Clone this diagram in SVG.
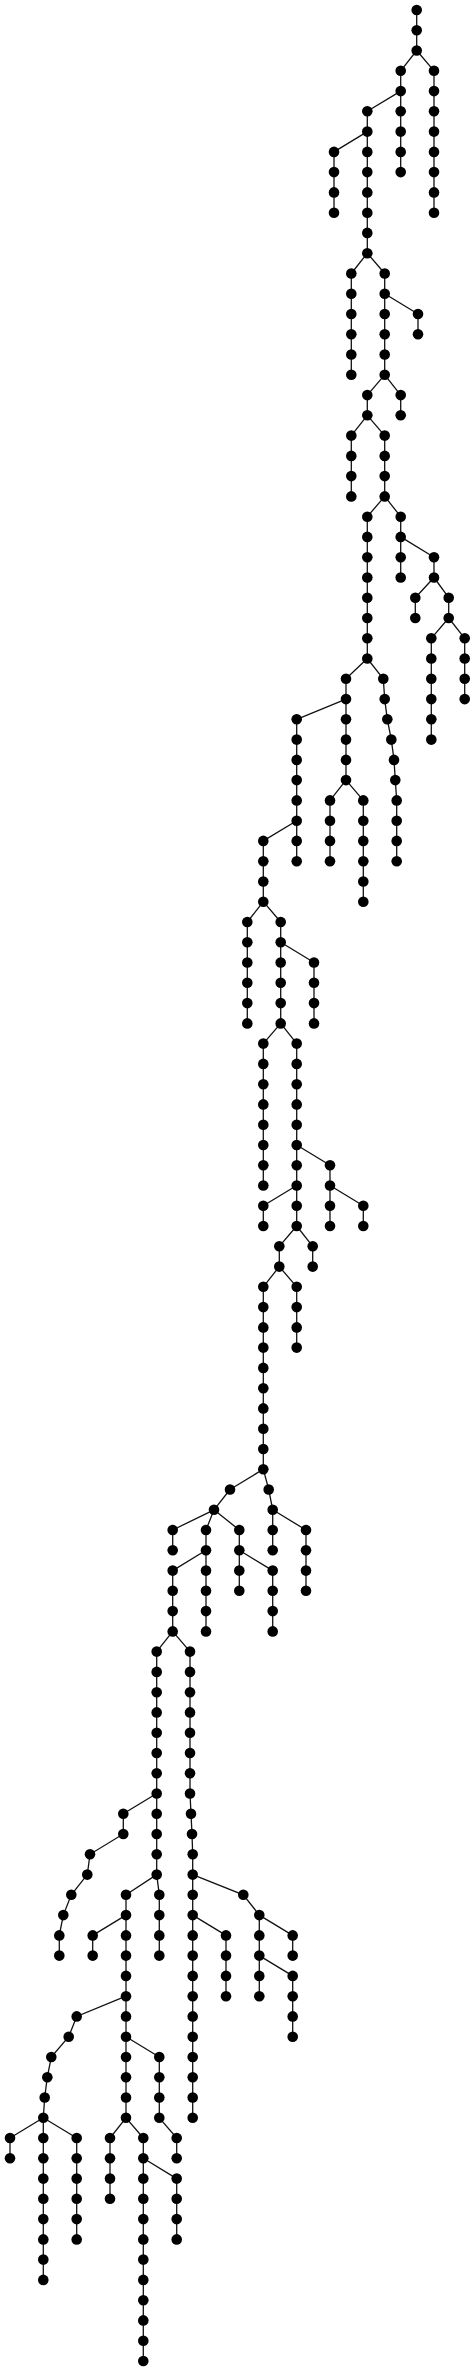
<svg xmlns="http://www.w3.org/2000/svg" width="475" height="2371" viewBox="0 0 475 2371">
<style>
.e{fill:none;stroke:#111;stroke-width:1.3}
circle{fill:#000}
</style>
<rect width="475" height="2371" fill="#fff"/>
<g id="connectors" class="e">
<path d="M416.7 10V50.5M400.7 70.8V172.1M434 70.8V212.7M367.3 111.3V253.2M334 151.9V212.7M351.3 273.5V374.8M384.7 273.5V374.8M418 314V334.3M367.3 395.1V415.3M400.7 395.1V415.3M351.3 435.6V496.4M384.7 435.6V496.4M367.3 516.7V658.5M400.7 516.7V577.5M434 557.2V577.5M415.3 597.7V618M448.7 597.7V618M431.3 638.3V739.6M464.7 638.3V699.1M346 678.8V780.1M383.3 678.8L384.7 699.1L387.3 719.3L391.3 739.6L394 759.9L395.3 780.1L396.7 800.4V861.2M296.7 719.3V861.2M330 800.4V861.2M363.3 800.4V901.7M263.3 840.9V901.7M247.3 922V1023.4M280.7 922V1023.4M314 962.5V1023.4M263.3 1043.6V1185.5M296.7 1043.6V1226M330 1165.2V1226M363.3 1205.8V1226M263.3 1205.8V1226M279.3 1246.3V1266.6M312.7 1246.3V1266.6M263.3 1286.8V1469.2M296.7 1286.8V1347.6M268.7 1489.5L272.7 1509.8V1550.3M172.7 1530V1550.3M206 1530V1631.4M239.3 1530V1590.8M306 1530V1590.8M172.7 1570.6V1631.4M272.7 1570.6V1631.4M156.7 1651.6V1874.6M190 1651.6V1793.5L191 1813.8L192 1834L192.7 1854.3V2117.8M123.3 1813.8V1834L90 1854.3L87.3 1874.6L71.3 1894.8L63.3 1915.1L59.3 1935.4V1955.6M126 1894.8V2117.8M159.3 1894.8V1955.6M192.7 1874.6L243.3 1894.8L259.3 1915.1V1996.2M92.7 1935.4V1955.6M226 1935.4V1996.2M292.7 1935.4V1955.6M292.7 1975.9V2036.7M126 1996.2L76.7 2016.4L68.7 2036.7L51.3 2057L47.3 2077.2L44.7 2097.5L43.3 2117.8V2279.9M159.3 2057V2117.8M10 2138V2158.3M76.7 2138V2239.4M110 2138V2198.8M143.3 2138V2361M176.7 2138V2158.3M176.7 2178.6V2239.4"/>
<path d="M416.7 50.5L400.7 70.8M416.7 50.5L434 70.8M400.7 91.1L367.3 111.3M367.3 131.6L334 151.9M367.3 253.2L351.3 273.5M367.3 253.2L384.7 273.5M384.7 293.7L418 314M384.7 374.8L367.3 395.1M384.7 374.8L400.7 395.1M367.3 415.3L351.3 435.6M367.3 415.3L384.7 435.6M384.7 496.4L367.3 516.7M384.7 496.4L400.7 516.7M400.7 536.9L434 557.2M434 577.5L415.3 597.7M434 577.5L448.7 597.7M448.7 618L431.3 638.3M448.7 618L464.7 638.3M367.3 658.5L346 678.8M367.3 658.5L383.3 678.8M346 699.1L296.7 719.3M346 780.1L330 800.4M346 780.1L363.3 800.4M296.7 820.7L263.3 840.9M263.3 901.7L247.3 922M263.3 901.7L280.7 922M280.7 942.3L314 962.5M280.7 1023.4L263.3 1043.6M280.7 1023.4L296.7 1043.6M296.7 1145L330 1165.2M296.7 1185.5L263.3 1205.8M330 1185.5L363.3 1205.8M296.7 1226L279.3 1246.3M296.7 1226L312.7 1246.3M279.3 1266.6L263.3 1286.8M279.3 1266.6L296.7 1286.8M263.3 1469.2L230 1489.5M263.3 1469.2L268.7 1489.5M230 1489.5L214 1509.8M214 1509.8L172.7 1530M214 1509.8L206 1530M214 1509.8L239.3 1530M272.7 1509.8L306 1530M206 1550.3L172.7 1570.6M239.3 1550.3L272.7 1570.6M172.7 1631.4L156.7 1651.6M172.7 1631.4L190 1651.6M156.7 1793.5L123.3 1813.8M156.7 1874.6L126 1894.8M156.7 1874.6L159.3 1894.8M126 1915.1L92.7 1935.4M192.7 1915.1L226 1935.4M259.3 1915.1L292.7 1935.4M259.3 1955.6L292.7 1975.9M126 2036.7L159.3 2057M43.3 2117.8L10 2138M43.3 2117.8L76.7 2138M126 2117.8L110 2138M126 2117.8L143.3 2138M159.3 2117.8L176.7 2138M143.3 2158.3L176.7 2178.6"/>
</g>
<g id="nodes">
<g id="n0_0"><circle cx="416.7" cy="10" r="5.3"/></g>
<g id="n1_0"><circle cx="416.7" cy="30.3" r="5.3"/></g>
<g id="n2_0"><circle cx="416.7" cy="50.5" r="5.3"/></g>
<g id="n3_0"><circle cx="400.7" cy="70.8" r="5.3"/></g>
<g id="n3_1"><circle cx="434" cy="70.8" r="5.3"/></g>
<g id="n4_0"><circle cx="400.7" cy="91.1" r="5.3"/></g>
<g id="n4_1"><circle cx="434" cy="91.1" r="5.3"/></g>
<g id="n5_0"><circle cx="367.3" cy="111.3" r="5.3"/></g>
<g id="n5_1"><circle cx="400.7" cy="111.3" r="5.3"/></g>
<g id="n5_2"><circle cx="434" cy="111.3" r="5.3"/></g>
<g id="n6_0"><circle cx="367.3" cy="131.6" r="5.3"/></g>
<g id="n6_1"><circle cx="400.7" cy="131.6" r="5.3"/></g>
<g id="n6_2"><circle cx="434" cy="131.6" r="5.3"/></g>
<g id="n7_0"><circle cx="334" cy="151.9" r="5.3"/></g>
<g id="n7_1"><circle cx="367.3" cy="151.9" r="5.3"/></g>
<g id="n7_2"><circle cx="400.7" cy="151.9" r="5.3"/></g>
<g id="n7_3"><circle cx="434" cy="151.9" r="5.3"/></g>
<g id="n8_0"><circle cx="334" cy="172.1" r="5.3"/></g>
<g id="n8_1"><circle cx="367.3" cy="172.1" r="5.3"/></g>
<g id="n8_2"><circle cx="400.7" cy="172.1" r="5.3"/></g>
<g id="n8_3"><circle cx="434" cy="172.1" r="5.3"/></g>
<g id="n9_0"><circle cx="334" cy="192.4" r="5.3"/></g>
<g id="n9_1"><circle cx="367.3" cy="192.4" r="5.3"/></g>
<g id="n9_2"><circle cx="434" cy="192.4" r="5.3"/></g>
<g id="n10_0"><circle cx="334" cy="212.7" r="5.3"/></g>
<g id="n10_1"><circle cx="367.3" cy="212.7" r="5.3"/></g>
<g id="n10_2"><circle cx="434" cy="212.7" r="5.3"/></g>
<g id="n11_0"><circle cx="367.3" cy="232.9" r="5.3"/></g>
<g id="n12_0"><circle cx="367.3" cy="253.2" r="5.3"/></g>
<g id="n13_0"><circle cx="351.3" cy="273.5" r="5.3"/></g>
<g id="n13_1"><circle cx="384.7" cy="273.5" r="5.3"/></g>
<g id="n14_0"><circle cx="351.3" cy="293.7" r="5.3"/></g>
<g id="n14_1"><circle cx="384.7" cy="293.7" r="5.3"/></g>
<g id="n15_0"><circle cx="351.3" cy="314" r="5.3"/></g>
<g id="n15_1"><circle cx="384.7" cy="314" r="5.3"/></g>
<g id="n15_2"><circle cx="418" cy="314" r="5.3"/></g>
<g id="n16_0"><circle cx="351.3" cy="334.3" r="5.3"/></g>
<g id="n16_1"><circle cx="384.7" cy="334.3" r="5.3"/></g>
<g id="n16_2"><circle cx="418" cy="334.3" r="5.3"/></g>
<g id="n17_0"><circle cx="351.3" cy="354.5" r="5.3"/></g>
<g id="n17_1"><circle cx="384.7" cy="354.5" r="5.3"/></g>
<g id="n18_0"><circle cx="351.3" cy="374.8" r="5.3"/></g>
<g id="n18_1"><circle cx="384.7" cy="374.8" r="5.3"/></g>
<g id="n19_0"><circle cx="367.3" cy="395.1" r="5.3"/></g>
<g id="n19_1"><circle cx="400.7" cy="395.1" r="5.3"/></g>
<g id="n20_0"><circle cx="367.3" cy="415.3" r="5.3"/></g>
<g id="n20_1"><circle cx="400.7" cy="415.3" r="5.3"/></g>
<g id="n21_0"><circle cx="351.3" cy="435.6" r="5.3"/></g>
<g id="n21_1"><circle cx="384.7" cy="435.6" r="5.3"/></g>
<g id="n22_0"><circle cx="351.3" cy="455.9" r="5.3"/></g>
<g id="n22_1"><circle cx="384.7" cy="455.9" r="5.3"/></g>
<g id="n23_0"><circle cx="351.3" cy="476.1" r="5.3"/></g>
<g id="n23_1"><circle cx="384.7" cy="476.1" r="5.3"/></g>
<g id="n24_0"><circle cx="351.3" cy="496.4" r="5.3"/></g>
<g id="n24_1"><circle cx="384.7" cy="496.4" r="5.3"/></g>
<g id="n25_0"><circle cx="367.3" cy="516.7" r="5.3"/></g>
<g id="n25_1"><circle cx="400.7" cy="516.7" r="5.3"/></g>
<g id="n26_0"><circle cx="367.3" cy="536.9" r="5.3"/></g>
<g id="n26_1"><circle cx="400.7" cy="536.9" r="5.3"/></g>
<g id="n27_0"><circle cx="367.3" cy="557.2" r="5.3"/></g>
<g id="n27_1"><circle cx="400.7" cy="557.2" r="5.3"/></g>
<g id="n27_2"><circle cx="434" cy="557.2" r="5.3"/></g>
<g id="n28_0"><circle cx="367.3" cy="577.5" r="5.3"/></g>
<g id="n28_1"><circle cx="400.7" cy="577.5" r="5.3"/></g>
<g id="n28_2"><circle cx="434" cy="577.5" r="5.3"/></g>
<g id="n29_0"><circle cx="367.3" cy="597.7" r="5.3"/></g>
<g id="n29_1"><circle cx="415.3" cy="597.7" r="5.3"/></g>
<g id="n29_2"><circle cx="448.7" cy="597.7" r="5.3"/></g>
<g id="n30_0"><circle cx="367.3" cy="618" r="5.3"/></g>
<g id="n30_1"><circle cx="415.3" cy="618" r="5.3"/></g>
<g id="n30_2"><circle cx="448.7" cy="618" r="5.3"/></g>
<g id="n31_0"><circle cx="367.3" cy="638.3" r="5.3"/></g>
<g id="n31_1"><circle cx="431.3" cy="638.3" r="5.3"/></g>
<g id="n31_2"><circle cx="464.7" cy="638.3" r="5.3"/></g>
<g id="n32_0"><circle cx="367.3" cy="658.5" r="5.3"/></g>
<g id="n32_1"><circle cx="431.3" cy="658.5" r="5.3"/></g>
<g id="n32_2"><circle cx="464.7" cy="658.5" r="5.3"/></g>
<g id="n33_0"><circle cx="346" cy="678.8" r="5.3"/></g>
<g id="n33_1"><circle cx="383.3" cy="678.8" r="5.3"/></g>
<g id="n33_2"><circle cx="431.3" cy="678.8" r="5.3"/></g>
<g id="n33_3"><circle cx="464.7" cy="678.8" r="5.3"/></g>
<g id="n34_0"><circle cx="346" cy="699.1" r="5.3"/></g>
<g id="n34_1"><circle cx="384.7" cy="699.1" r="5.3"/></g>
<g id="n34_2"><circle cx="431.3" cy="699.1" r="5.3"/></g>
<g id="n34_3"><circle cx="464.7" cy="699.1" r="5.3"/></g>
<g id="n35_0"><circle cx="296.7" cy="719.3" r="5.3"/></g>
<g id="n35_1"><circle cx="346" cy="719.3" r="5.3"/></g>
<g id="n35_2"><circle cx="387.3" cy="719.3" r="5.3"/></g>
<g id="n35_3"><circle cx="431.3" cy="719.3" r="5.3"/></g>
<g id="n36_0"><circle cx="296.7" cy="739.6" r="5.3"/></g>
<g id="n36_1"><circle cx="346" cy="739.6" r="5.3"/></g>
<g id="n36_2"><circle cx="391.3" cy="739.6" r="5.3"/></g>
<g id="n36_3"><circle cx="431.3" cy="739.6" r="5.3"/></g>
<g id="n37_0"><circle cx="296.7" cy="759.9" r="5.3"/></g>
<g id="n37_1"><circle cx="346" cy="759.9" r="5.3"/></g>
<g id="n37_2"><circle cx="394" cy="759.9" r="5.3"/></g>
<g id="n38_0"><circle cx="296.7" cy="780.1" r="5.3"/></g>
<g id="n38_1"><circle cx="346" cy="780.1" r="5.3"/></g>
<g id="n38_2"><circle cx="395.3" cy="780.1" r="5.3"/></g>
<g id="n39_0"><circle cx="296.7" cy="800.4" r="5.3"/></g>
<g id="n39_1"><circle cx="330" cy="800.4" r="5.3"/></g>
<g id="n39_2"><circle cx="363.3" cy="800.4" r="5.3"/></g>
<g id="n39_3"><circle cx="396.7" cy="800.4" r="5.3"/></g>
<g id="n40_0"><circle cx="296.7" cy="820.7" r="5.3"/></g>
<g id="n40_1"><circle cx="330" cy="820.7" r="5.3"/></g>
<g id="n40_2"><circle cx="363.3" cy="820.7" r="5.3"/></g>
<g id="n40_3"><circle cx="396.7" cy="820.7" r="5.3"/></g>
<g id="n41_0"><circle cx="263.3" cy="840.9" r="5.3"/></g>
<g id="n41_1"><circle cx="296.7" cy="840.9" r="5.3"/></g>
<g id="n41_2"><circle cx="330" cy="840.9" r="5.3"/></g>
<g id="n41_3"><circle cx="363.3" cy="840.9" r="5.3"/></g>
<g id="n41_4"><circle cx="396.7" cy="840.9" r="5.3"/></g>
<g id="n42_0"><circle cx="263.3" cy="861.2" r="5.3"/></g>
<g id="n42_1"><circle cx="296.7" cy="861.2" r="5.3"/></g>
<g id="n42_2"><circle cx="330" cy="861.2" r="5.3"/></g>
<g id="n42_3"><circle cx="363.3" cy="861.2" r="5.3"/></g>
<g id="n42_4"><circle cx="396.7" cy="861.2" r="5.3"/></g>
<g id="n43_0"><circle cx="263.3" cy="881.5" r="5.3"/></g>
<g id="n43_1"><circle cx="363.3" cy="881.5" r="5.3"/></g>
<g id="n44_0"><circle cx="263.3" cy="901.7" r="5.3"/></g>
<g id="n44_1"><circle cx="363.3" cy="901.7" r="5.3"/></g>
<g id="n45_0"><circle cx="247.3" cy="922" r="5.3"/></g>
<g id="n45_1"><circle cx="280.7" cy="922" r="5.3"/></g>
<g id="n46_0"><circle cx="247.3" cy="942.3" r="5.3"/></g>
<g id="n46_1"><circle cx="280.7" cy="942.3" r="5.3"/></g>
<g id="n47_0"><circle cx="247.3" cy="962.5" r="5.3"/></g>
<g id="n47_1"><circle cx="280.7" cy="962.5" r="5.3"/></g>
<g id="n47_2"><circle cx="314" cy="962.5" r="5.3"/></g>
<g id="n48_0"><circle cx="247.3" cy="982.8" r="5.3"/></g>
<g id="n48_1"><circle cx="280.7" cy="982.8" r="5.3"/></g>
<g id="n48_2"><circle cx="314" cy="982.8" r="5.3"/></g>
<g id="n49_0"><circle cx="247.3" cy="1003.1" r="5.3"/></g>
<g id="n49_1"><circle cx="280.7" cy="1003.1" r="5.3"/></g>
<g id="n49_2"><circle cx="314" cy="1003.1" r="5.3"/></g>
<g id="n50_0"><circle cx="247.3" cy="1023.4" r="5.3"/></g>
<g id="n50_1"><circle cx="280.7" cy="1023.4" r="5.3"/></g>
<g id="n50_2"><circle cx="314" cy="1023.4" r="5.3"/></g>
<g id="n51_0"><circle cx="263.3" cy="1043.6" r="5.3"/></g>
<g id="n51_1"><circle cx="296.7" cy="1043.6" r="5.3"/></g>
<g id="n52_0"><circle cx="263.3" cy="1063.9" r="5.3"/></g>
<g id="n52_1"><circle cx="296.7" cy="1063.9" r="5.3"/></g>
<g id="n53_0"><circle cx="263.3" cy="1084.2" r="5.3"/></g>
<g id="n53_1"><circle cx="296.7" cy="1084.2" r="5.3"/></g>
<g id="n54_0"><circle cx="263.3" cy="1104.4" r="5.3"/></g>
<g id="n54_1"><circle cx="296.7" cy="1104.4" r="5.3"/></g>
<g id="n55_0"><circle cx="263.3" cy="1124.7" r="5.3"/></g>
<g id="n55_1"><circle cx="296.7" cy="1124.7" r="5.3"/></g>
<g id="n56_0"><circle cx="263.3" cy="1145" r="5.3"/></g>
<g id="n56_1"><circle cx="296.7" cy="1145" r="5.3"/></g>
<g id="n57_0"><circle cx="263.3" cy="1165.2" r="5.3"/></g>
<g id="n57_1"><circle cx="296.7" cy="1165.2" r="5.3"/></g>
<g id="n57_2"><circle cx="330" cy="1165.2" r="5.3"/></g>
<g id="n58_0"><circle cx="263.3" cy="1185.5" r="5.3"/></g>
<g id="n58_1"><circle cx="296.7" cy="1185.5" r="5.3"/></g>
<g id="n58_2"><circle cx="330" cy="1185.5" r="5.3"/></g>
<g id="n59_0"><circle cx="263.3" cy="1205.8" r="5.3"/></g>
<g id="n59_1"><circle cx="296.7" cy="1205.8" r="5.3"/></g>
<g id="n59_2"><circle cx="330" cy="1205.8" r="5.3"/></g>
<g id="n59_3"><circle cx="363.3" cy="1205.8" r="5.3"/></g>
<g id="n60_0"><circle cx="263.3" cy="1226" r="5.3"/></g>
<g id="n60_1"><circle cx="296.7" cy="1226" r="5.3"/></g>
<g id="n60_2"><circle cx="330" cy="1226" r="5.3"/></g>
<g id="n60_3"><circle cx="363.3" cy="1226" r="5.3"/></g>
<g id="n61_0"><circle cx="279.3" cy="1246.3" r="5.3"/></g>
<g id="n61_1"><circle cx="312.7" cy="1246.3" r="5.3"/></g>
<g id="n62_0"><circle cx="279.3" cy="1266.6" r="5.3"/></g>
<g id="n62_1"><circle cx="312.7" cy="1266.6" r="5.3"/></g>
<g id="n63_0"><circle cx="263.3" cy="1286.8" r="5.3"/></g>
<g id="n63_1"><circle cx="296.7" cy="1286.8" r="5.3"/></g>
<g id="n64_0"><circle cx="263.3" cy="1307.1" r="5.3"/></g>
<g id="n64_1"><circle cx="296.7" cy="1307.1" r="5.3"/></g>
<g id="n65_0"><circle cx="263.3" cy="1327.4" r="5.3"/></g>
<g id="n65_1"><circle cx="296.7" cy="1327.4" r="5.3"/></g>
<g id="n66_0"><circle cx="263.3" cy="1347.6" r="5.3"/></g>
<g id="n66_1"><circle cx="296.7" cy="1347.6" r="5.3"/></g>
<g id="n67_0"><circle cx="263.3" cy="1367.9" r="5.3"/></g>
<g id="n68_0"><circle cx="263.3" cy="1388.2" r="5.3"/></g>
<g id="n69_0"><circle cx="263.3" cy="1408.4" r="5.3"/></g>
<g id="n70_0"><circle cx="263.3" cy="1428.7" r="5.3"/></g>
<g id="n71_0"><circle cx="263.3" cy="1449" r="5.3"/></g>
<g id="n72_0"><circle cx="263.3" cy="1469.2" r="5.3"/></g>
<g id="n73_0"><circle cx="230" cy="1489.5" r="5.3"/></g>
<g id="n73_1"><circle cx="268.7" cy="1489.5" r="5.3"/></g>
<g id="n74_0"><circle cx="214" cy="1509.8" r="5.3"/></g>
<g id="n74_1"><circle cx="272.7" cy="1509.8" r="5.3"/></g>
<g id="n75_0"><circle cx="172.7" cy="1530" r="5.3"/></g>
<g id="n75_1"><circle cx="206" cy="1530" r="5.3"/></g>
<g id="n75_2"><circle cx="239.3" cy="1530" r="5.3"/></g>
<g id="n75_3"><circle cx="272.7" cy="1530" r="5.3"/></g>
<g id="n75_4"><circle cx="306" cy="1530" r="5.3"/></g>
<g id="n76_0"><circle cx="172.7" cy="1550.3" r="5.3"/></g>
<g id="n76_1"><circle cx="206" cy="1550.3" r="5.3"/></g>
<g id="n76_2"><circle cx="239.3" cy="1550.3" r="5.3"/></g>
<g id="n76_3"><circle cx="272.7" cy="1550.3" r="5.3"/></g>
<g id="n76_4"><circle cx="306" cy="1550.3" r="5.3"/></g>
<g id="n77_0"><circle cx="172.7" cy="1570.6" r="5.3"/></g>
<g id="n77_1"><circle cx="206" cy="1570.6" r="5.3"/></g>
<g id="n77_2"><circle cx="239.3" cy="1570.6" r="5.3"/></g>
<g id="n77_3"><circle cx="272.7" cy="1570.6" r="5.3"/></g>
<g id="n77_4"><circle cx="306" cy="1570.6" r="5.3"/></g>
<g id="n78_0"><circle cx="172.7" cy="1590.8" r="5.3"/></g>
<g id="n78_1"><circle cx="206" cy="1590.8" r="5.3"/></g>
<g id="n78_2"><circle cx="239.3" cy="1590.8" r="5.3"/></g>
<g id="n78_3"><circle cx="272.7" cy="1590.8" r="5.3"/></g>
<g id="n78_4"><circle cx="306" cy="1590.8" r="5.3"/></g>
<g id="n79_0"><circle cx="172.7" cy="1611.1" r="5.3"/></g>
<g id="n79_1"><circle cx="206" cy="1611.1" r="5.3"/></g>
<g id="n79_2"><circle cx="272.7" cy="1611.1" r="5.3"/></g>
<g id="n80_0"><circle cx="172.7" cy="1631.4" r="5.3"/></g>
<g id="n80_1"><circle cx="206" cy="1631.4" r="5.3"/></g>
<g id="n80_2"><circle cx="272.7" cy="1631.4" r="5.3"/></g>
<g id="n81_0"><circle cx="156.7" cy="1651.6" r="5.3"/></g>
<g id="n81_1"><circle cx="190" cy="1651.6" r="5.3"/></g>
<g id="n82_0"><circle cx="156.7" cy="1671.9" r="5.3"/></g>
<g id="n82_1"><circle cx="190" cy="1671.9" r="5.3"/></g>
<g id="n83_0"><circle cx="156.7" cy="1692.2" r="5.3"/></g>
<g id="n83_1"><circle cx="190" cy="1692.2" r="5.3"/></g>
<g id="n84_0"><circle cx="156.7" cy="1712.4" r="5.3"/></g>
<g id="n84_1"><circle cx="190" cy="1712.4" r="5.3"/></g>
<g id="n85_0"><circle cx="156.7" cy="1732.7" r="5.3"/></g>
<g id="n85_1"><circle cx="190" cy="1732.7" r="5.3"/></g>
<g id="n86_0"><circle cx="156.7" cy="1753" r="5.3"/></g>
<g id="n86_1"><circle cx="190" cy="1753" r="5.3"/></g>
<g id="n87_0"><circle cx="156.7" cy="1773.2" r="5.3"/></g>
<g id="n87_1"><circle cx="190" cy="1773.2" r="5.3"/></g>
<g id="n88_0"><circle cx="156.7" cy="1793.5" r="5.3"/></g>
<g id="n88_1"><circle cx="190" cy="1793.5" r="5.3"/></g>
<g id="n89_0"><circle cx="123.3" cy="1813.8" r="5.3"/></g>
<g id="n89_1"><circle cx="156.7" cy="1813.8" r="5.3"/></g>
<g id="n89_2"><circle cx="191" cy="1813.8" r="5.3"/></g>
<g id="n90_0"><circle cx="123.3" cy="1834" r="5.3"/></g>
<g id="n90_1"><circle cx="156.7" cy="1834" r="5.3"/></g>
<g id="n90_2"><circle cx="192" cy="1834" r="5.3"/></g>
<g id="n91_0"><circle cx="90" cy="1854.3" r="5.3"/></g>
<g id="n91_1"><circle cx="156.7" cy="1854.3" r="5.3"/></g>
<g id="n91_2"><circle cx="192.7" cy="1854.3" r="5.3"/></g>
<g id="n92_0"><circle cx="87.3" cy="1874.6" r="5.3"/></g>
<g id="n92_1"><circle cx="156.7" cy="1874.6" r="5.3"/></g>
<g id="n92_2"><circle cx="192.7" cy="1874.6" r="5.3"/></g>
<g id="n93_0"><circle cx="71.3" cy="1894.8" r="5.3"/></g>
<g id="n93_1"><circle cx="126" cy="1894.8" r="5.3"/></g>
<g id="n93_2"><circle cx="159.3" cy="1894.8" r="5.3"/></g>
<g id="n93_3"><circle cx="192.7" cy="1894.8" r="5.3"/></g>
<g id="n93_4"><circle cx="243.3" cy="1894.8" r="5.3"/></g>
<g id="n94_0"><circle cx="63.3" cy="1915.1" r="5.3"/></g>
<g id="n94_1"><circle cx="126" cy="1915.1" r="5.3"/></g>
<g id="n94_2"><circle cx="159.3" cy="1915.1" r="5.3"/></g>
<g id="n94_3"><circle cx="192.7" cy="1915.1" r="5.3"/></g>
<g id="n94_4"><circle cx="259.3" cy="1915.1" r="5.3"/></g>
<g id="n95_0"><circle cx="59.3" cy="1935.4" r="5.3"/></g>
<g id="n95_1"><circle cx="92.7" cy="1935.4" r="5.3"/></g>
<g id="n95_2"><circle cx="126" cy="1935.4" r="5.3"/></g>
<g id="n95_3"><circle cx="159.3" cy="1935.4" r="5.3"/></g>
<g id="n95_4"><circle cx="192.7" cy="1935.4" r="5.3"/></g>
<g id="n95_5"><circle cx="226" cy="1935.4" r="5.3"/></g>
<g id="n95_6"><circle cx="259.3" cy="1935.4" r="5.3"/></g>
<g id="n95_7"><circle cx="292.7" cy="1935.4" r="5.3"/></g>
<g id="n96_0"><circle cx="59.3" cy="1955.6" r="5.3"/></g>
<g id="n96_1"><circle cx="92.7" cy="1955.6" r="5.3"/></g>
<g id="n96_2"><circle cx="126" cy="1955.6" r="5.3"/></g>
<g id="n96_3"><circle cx="159.3" cy="1955.6" r="5.3"/></g>
<g id="n96_4"><circle cx="192.7" cy="1955.6" r="5.3"/></g>
<g id="n96_5"><circle cx="226" cy="1955.6" r="5.3"/></g>
<g id="n96_6"><circle cx="259.3" cy="1955.6" r="5.3"/></g>
<g id="n96_7"><circle cx="292.7" cy="1955.6" r="5.3"/></g>
<g id="n97_0"><circle cx="126" cy="1975.9" r="5.3"/></g>
<g id="n97_1"><circle cx="192.7" cy="1975.9" r="5.3"/></g>
<g id="n97_2"><circle cx="226" cy="1975.9" r="5.3"/></g>
<g id="n97_3"><circle cx="259.3" cy="1975.9" r="5.3"/></g>
<g id="n97_4"><circle cx="292.7" cy="1975.9" r="5.3"/></g>
<g id="n98_0"><circle cx="126" cy="1996.2" r="5.3"/></g>
<g id="n98_1"><circle cx="192.7" cy="1996.2" r="5.3"/></g>
<g id="n98_2"><circle cx="226" cy="1996.2" r="5.3"/></g>
<g id="n98_3"><circle cx="259.3" cy="1996.2" r="5.3"/></g>
<g id="n98_4"><circle cx="292.7" cy="1996.2" r="5.3"/></g>
<g id="n99_0"><circle cx="76.7" cy="2016.4" r="5.3"/></g>
<g id="n99_1"><circle cx="126" cy="2016.4" r="5.3"/></g>
<g id="n99_2"><circle cx="192.7" cy="2016.4" r="5.3"/></g>
<g id="n99_3"><circle cx="292.7" cy="2016.4" r="5.3"/></g>
<g id="n100_0"><circle cx="68.7" cy="2036.7" r="5.3"/></g>
<g id="n100_1"><circle cx="126" cy="2036.7" r="5.3"/></g>
<g id="n100_2"><circle cx="192.7" cy="2036.7" r="5.3"/></g>
<g id="n100_3"><circle cx="292.7" cy="2036.7" r="5.3"/></g>
<g id="n101_0"><circle cx="51.3" cy="2057" r="5.3"/></g>
<g id="n101_1"><circle cx="126" cy="2057" r="5.3"/></g>
<g id="n101_2"><circle cx="159.3" cy="2057" r="5.3"/></g>
<g id="n101_3"><circle cx="192.7" cy="2057" r="5.3"/></g>
<g id="n102_0"><circle cx="47.3" cy="2077.2" r="5.3"/></g>
<g id="n102_1"><circle cx="126" cy="2077.2" r="5.3"/></g>
<g id="n102_2"><circle cx="159.3" cy="2077.2" r="5.3"/></g>
<g id="n102_3"><circle cx="192.7" cy="2077.2" r="5.3"/></g>
<g id="n103_0"><circle cx="44.7" cy="2097.5" r="5.3"/></g>
<g id="n103_1"><circle cx="126" cy="2097.5" r="5.3"/></g>
<g id="n103_2"><circle cx="159.3" cy="2097.5" r="5.3"/></g>
<g id="n103_3"><circle cx="192.7" cy="2097.5" r="5.3"/></g>
<g id="n104_0"><circle cx="43.3" cy="2117.8" r="5.3"/></g>
<g id="n104_1"><circle cx="126" cy="2117.8" r="5.3"/></g>
<g id="n104_2"><circle cx="159.3" cy="2117.8" r="5.3"/></g>
<g id="n104_3"><circle cx="192.7" cy="2117.8" r="5.3"/></g>
<g id="n105_0"><circle cx="10" cy="2138" r="5.3"/></g>
<g id="n105_1"><circle cx="43.3" cy="2138" r="5.3"/></g>
<g id="n105_2"><circle cx="76.7" cy="2138" r="5.3"/></g>
<g id="n105_3"><circle cx="110" cy="2138" r="5.3"/></g>
<g id="n105_4"><circle cx="143.3" cy="2138" r="5.3"/></g>
<g id="n105_5"><circle cx="176.7" cy="2138" r="5.3"/></g>
<g id="n106_0"><circle cx="10" cy="2158.3" r="5.3"/></g>
<g id="n106_1"><circle cx="43.3" cy="2158.3" r="5.3"/></g>
<g id="n106_2"><circle cx="76.7" cy="2158.3" r="5.3"/></g>
<g id="n106_3"><circle cx="110" cy="2158.3" r="5.3"/></g>
<g id="n106_4"><circle cx="143.3" cy="2158.3" r="5.3"/></g>
<g id="n106_5"><circle cx="176.7" cy="2158.3" r="5.3"/></g>
<g id="n107_0"><circle cx="43.3" cy="2178.6" r="5.3"/></g>
<g id="n107_1"><circle cx="76.7" cy="2178.6" r="5.3"/></g>
<g id="n107_2"><circle cx="110" cy="2178.6" r="5.3"/></g>
<g id="n107_3"><circle cx="143.3" cy="2178.6" r="5.3"/></g>
<g id="n107_4"><circle cx="176.7" cy="2178.6" r="5.3"/></g>
<g id="n108_0"><circle cx="43.3" cy="2198.8" r="5.3"/></g>
<g id="n108_1"><circle cx="76.7" cy="2198.8" r="5.3"/></g>
<g id="n108_2"><circle cx="110" cy="2198.8" r="5.3"/></g>
<g id="n108_3"><circle cx="143.3" cy="2198.8" r="5.3"/></g>
<g id="n108_4"><circle cx="176.7" cy="2198.8" r="5.3"/></g>
<g id="n109_0"><circle cx="43.3" cy="2219.1" r="5.3"/></g>
<g id="n109_1"><circle cx="76.7" cy="2219.1" r="5.3"/></g>
<g id="n109_2"><circle cx="143.3" cy="2219.1" r="5.3"/></g>
<g id="n109_3"><circle cx="176.7" cy="2219.1" r="5.3"/></g>
<g id="n110_0"><circle cx="43.3" cy="2239.4" r="5.3"/></g>
<g id="n110_1"><circle cx="76.7" cy="2239.4" r="5.3"/></g>
<g id="n110_2"><circle cx="143.3" cy="2239.4" r="5.3"/></g>
<g id="n110_3"><circle cx="176.7" cy="2239.4" r="5.3"/></g>
<g id="n111_0"><circle cx="43.3" cy="2259.6" r="5.3"/></g>
<g id="n111_1"><circle cx="143.3" cy="2259.6" r="5.3"/></g>
<g id="n112_0"><circle cx="43.3" cy="2279.9" r="5.3"/></g>
<g id="n112_1"><circle cx="143.3" cy="2279.9" r="5.3"/></g>
<g id="n113_0"><circle cx="143.3" cy="2300.2" r="5.3"/></g>
<g id="n114_0"><circle cx="143.3" cy="2320.4" r="5.3"/></g>
<g id="n115_0"><circle cx="143.3" cy="2340.7" r="5.3"/></g>
<g id="n116_0"><circle cx="143.3" cy="2361" r="5.3"/></g>
</g>
</svg>
